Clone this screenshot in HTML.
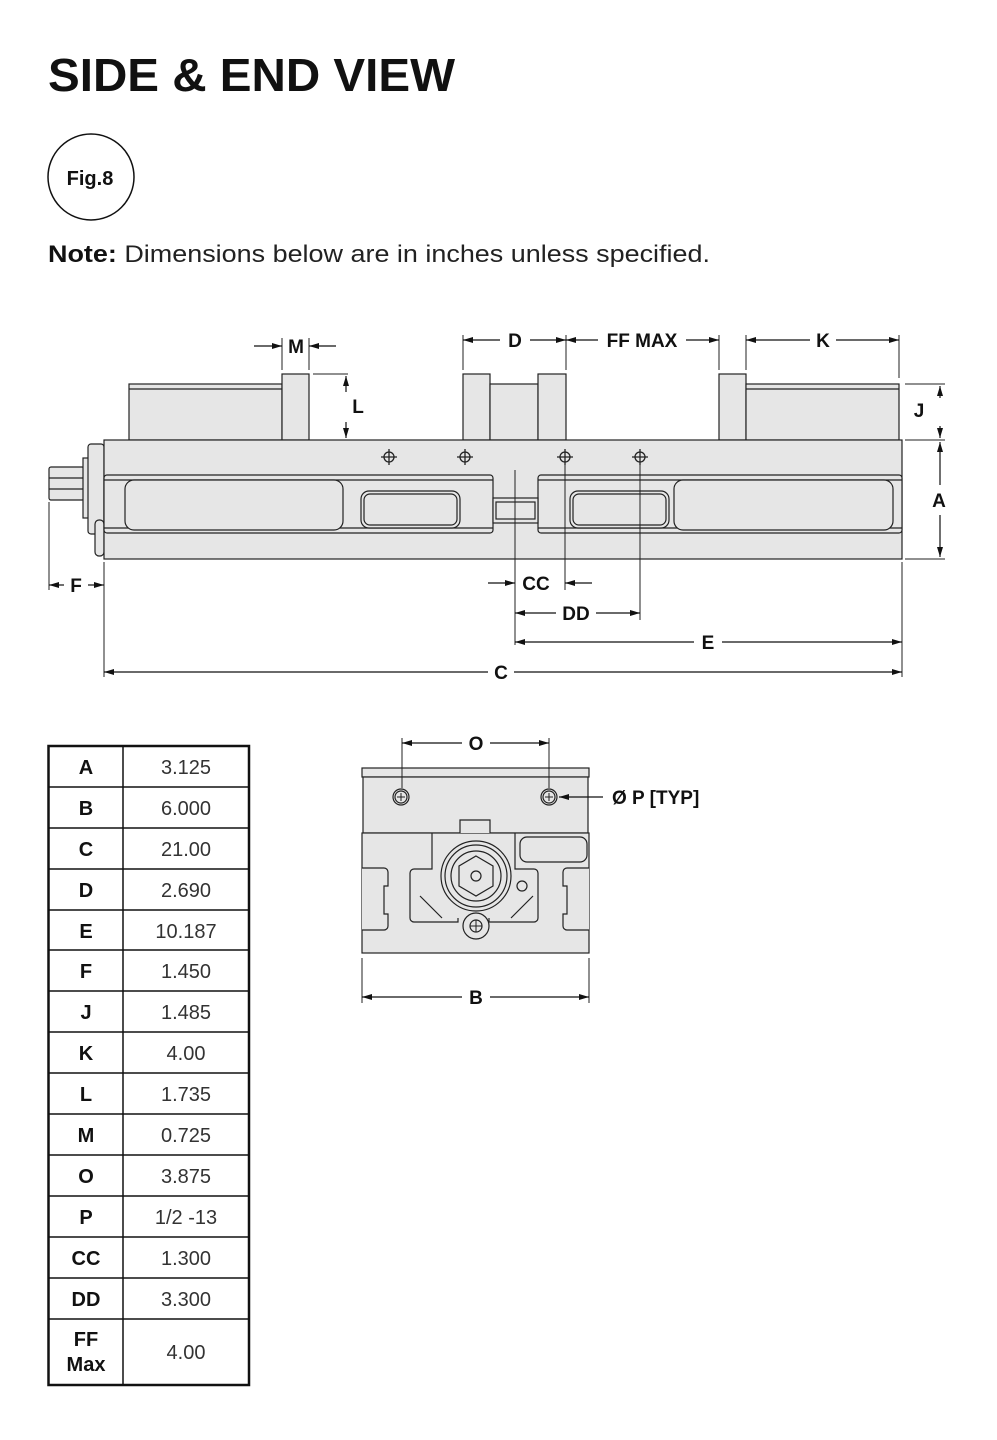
<!DOCTYPE html>
<html><head><meta charset="utf-8"><style>
html,body{margin:0;padding:0;background:#fff;width:997px;height:1440px;overflow:hidden}
svg{display:block}
</style></head><body>
<svg width="997" height="1440" viewBox="0 0 997 1440" xmlns="http://www.w3.org/2000/svg" font-family="Liberation Sans, sans-serif">
<defs>
<marker id="ar" viewBox="0 0 10 6" refX="10" refY="3" markerWidth="10" markerHeight="6" orient="auto-start-reverse" markerUnits="userSpaceOnUse"><path d="M0,0L10,3L0,6z" fill="#111"/></marker>
</defs>
<text x="48" y="91" font-size="46" font-weight="bold" textLength="407" lengthAdjust="spacingAndGlyphs" fill="#111">SIDE &amp; END VIEW</text>
<circle cx="91" cy="177" r="43" fill="none" stroke="#111" stroke-width="1.5"/>
<text x="90" y="185" font-size="20" font-weight="bold" text-anchor="middle" fill="#111">Fig.8</text>
<text x="48" y="262" font-size="24" fill="#222" textLength="662" lengthAdjust="spacingAndGlyphs"><tspan font-weight="bold" fill="#111">Note:</tspan> Dimensions below are in inches unless specified.</text>

<!-- SIDE VIEW -->
<g stroke="#222" stroke-width="1.2" fill="#e6e6e6">
<rect x="129" y="384" width="153" height="56"/>
<line x1="129" y1="389" x2="282" y2="389"/>
<rect x="282" y="374" width="27" height="66"/>
<rect x="463" y="374" width="27" height="66"/>
<rect x="490" y="384" width="48" height="56"/>
<rect x="538" y="374" width="28" height="66"/>
<rect x="719" y="374" width="27" height="66"/>
<rect x="746" y="384" width="153" height="56"/>
<line x1="746" y1="389" x2="899" y2="389"/>
<!-- handle -->
<rect x="49" y="467" width="35" height="33" rx="2"/>
<line x1="49" y1="478" x2="84" y2="478"/><line x1="49" y1="489" x2="84" y2="489"/>
<rect x="83" y="458" width="8" height="60"/>
<rect x="88" y="444" width="16" height="90" rx="3"/>
<rect x="95" y="520" width="9" height="36" rx="4"/>
<!-- body -->
<rect x="104" y="440" width="798" height="119"/>
<rect x="104" y="475" width="389" height="58" rx="3"/>
<line x1="104" y1="480" x2="493" y2="480"/><line x1="104" y1="528" x2="493" y2="528"/>
<rect x="538" y="475" width="364" height="58" rx="3"/>
<line x1="538" y1="480" x2="902" y2="480"/><line x1="538" y1="528" x2="902" y2="528"/>
<rect x="493" y="498" width="45" height="25"/>
<rect x="496" y="502" width="39" height="17"/>
<rect x="125" y="480" width="218" height="50" rx="9"/>
<rect x="361" y="491" width="99" height="37" rx="8"/>
<rect x="364" y="494" width="93" height="31" rx="6"/>
<rect x="570" y="491" width="99" height="37" rx="8"/>
<rect x="573" y="494" width="93" height="31" rx="6"/>
<rect x="674" y="480" width="219" height="50" rx="9"/>
</g>
<g stroke="#222" stroke-width="1.3" fill="none">
<circle cx="389" cy="457" r="5"/><circle cx="465" cy="457" r="5"/><circle cx="565" cy="457" r="5"/><circle cx="640" cy="457" r="5"/>
<path d="M381,457h16M389,449v16M457,457h16M465,449v16M557,457h16M565,449v16M632,457h16M640,449v16"/>
</g>
<!-- extension lines -->
<g stroke="#222" stroke-width="1" fill="none">
<path d="M282,338v32M309,338v32M463,335v35M566,335v35M719,335v35M746,335v35M899,335v43"/>
<path d="M313,374h35M905,384h40M905,440h40M905,559h40"/>
<path d="M49,502v88M104,562v115M515,470v175M565,465v125M640,465v155M902,562v115"/>
</g>
<g stroke="#111" stroke-width="1.2" fill="none">
<line x1="254" y1="346" x2="282" y2="346" marker-end="url(#ar)"/>
<line x1="336" y1="346" x2="309" y2="346" marker-end="url(#ar)"/>
<line x1="346" y1="376" x2="346" y2="392" marker-start="url(#ar)"/><line x1="346" y1="422" x2="346" y2="438" marker-end="url(#ar)"/>
<line x1="463" y1="340" x2="500" y2="340" marker-start="url(#ar)"/><line x1="530" y1="340" x2="566" y2="340" marker-end="url(#ar)"/>
<line x1="566" y1="340" x2="598" y2="340" marker-start="url(#ar)"/><line x1="686" y1="340" x2="719" y2="340" marker-end="url(#ar)"/>
<line x1="746" y1="340" x2="810" y2="340" marker-start="url(#ar)"/><line x1="836" y1="340" x2="899" y2="340" marker-end="url(#ar)"/>
<line x1="940" y1="386" x2="940" y2="398" marker-start="url(#ar)"/><line x1="940" y1="426" x2="940" y2="438" marker-end="url(#ar)"/>
<line x1="940" y1="442" x2="940" y2="485" marker-start="url(#ar)"/><line x1="940" y1="515" x2="940" y2="557" marker-end="url(#ar)"/>
<line x1="49" y1="585" x2="64" y2="585" marker-start="url(#ar)"/><line x1="88" y1="585" x2="104" y2="585" marker-end="url(#ar)"/>
<line x1="488" y1="583" x2="515" y2="583" marker-end="url(#ar)"/><line x1="592" y1="583" x2="565" y2="583" marker-end="url(#ar)"/>
<line x1="515" y1="613" x2="556" y2="613" marker-start="url(#ar)"/><line x1="596" y1="613" x2="640" y2="613" marker-end="url(#ar)"/>
<line x1="515" y1="642" x2="694" y2="642" marker-start="url(#ar)"/><line x1="722" y1="642" x2="902" y2="642" marker-end="url(#ar)"/>
<line x1="104" y1="672" x2="488" y2="672" marker-start="url(#ar)"/><line x1="514" y1="672" x2="902" y2="672" marker-end="url(#ar)"/>
</g>
<g font-size="19" font-weight="bold" fill="#111" text-anchor="middle">
<text x="296" y="353">M</text><text x="358" y="413">L</text>
<text x="515" y="347">D</text><text x="642" y="347">FF MAX</text><text x="823" y="347">K</text>
<text x="919" y="417">J</text><text x="939" y="507">A</text>
<text x="76" y="592">F</text><text x="536" y="590">CC</text><text x="576" y="620">DD</text>
<text x="708" y="649">E</text><text x="501" y="679">C</text>
<text x="476" y="750">O</text><text x="476" y="1004">B</text>
<text x="612" y="804" text-anchor="start">Ø P [TYP]</text>
</g>

<!-- END VIEW -->
<g stroke="#222" stroke-width="1.2" fill="#e6e6e6">
<rect x="362" y="768" width="227" height="9"/>
<rect x="363" y="777" width="225" height="56"/>
<rect x="362" y="833" width="227" height="120"/>
<path d="M362,868h22a4,4 0 0 1 4,4v14h-4v28h4v12a4,4 0 0 1 -4,4h-22" />
<path d="M589,868h-22a4,4 0 0 0 -4,4v14h4v28h-4v12a4,4 0 0 0 4,4h22" />
<path d="M432,833v36h-18a4,4 0 0 0 -4,4v45a4,4 0 0 0 4,4h44v-4M515,833v36h19a4,4 0 0 1 4,4v45a4,4 0 0 1 -4,4h-45v-4"/>
<path d="M460,833v-13h30v13"/>
<path d="M420,896l22,22M533,896l-22,22"/>
<rect x="520" y="837" width="67" height="25" rx="7"/>
<circle cx="476" cy="876" r="35"/>
<circle cx="476" cy="876" r="31" fill="none"/>
<circle cx="476" cy="876" r="25"/>
<path d="M476,856l17,10v20l-17,10l-17,-10v-20z"/>
<circle cx="476" cy="876" r="5"/>
<circle cx="522" cy="886" r="5"/>
<circle cx="476" cy="926" r="13"/>
<circle cx="476" cy="926" r="6"/>
<circle cx="401" cy="797" r="8"/><circle cx="401" cy="797" r="6"/>
<circle cx="549" cy="797" r="8"/><circle cx="549" cy="797" r="6"/>
</g>
<g stroke="#222" stroke-width="1" fill="none">
<path d="M397,797h8M401,793v8M545,797h8M549,793v8M470,926h12M476,920v12"/>
<path d="M402,738v50M549,738v50M362,958v45M589,958v45"/>
</g>
<g stroke="#111" stroke-width="1.2" fill="none">
<line x1="402" y1="743" x2="462" y2="743" marker-start="url(#ar)"/><line x1="490" y1="743" x2="549" y2="743" marker-end="url(#ar)"/>
<line x1="362" y1="997" x2="462" y2="997" marker-start="url(#ar)"/><line x1="490" y1="997" x2="589" y2="997" marker-end="url(#ar)"/>
<line x1="603" y1="797" x2="559" y2="797" marker-end="url(#ar)"/>
</g>

<!-- TABLE -->
<g stroke="#111" fill="none">
<rect x="48.5" y="746" width="200.5" height="639" stroke-width="2.5"/>
<line x1="123" y1="746" x2="123" y2="1385" stroke-width="1.5"/>
<path stroke-width="1.5" d="M48,787h201M48,828h201M48,869h201M48,910h201M48,950h201M48,991h201M48,1032h201M48,1073h201M48,1114h201M48,1155h201M48,1196h201M48,1237h201M48,1278h201M48,1319h201"/>
</g>
<g font-size="20" text-anchor="middle">
<g font-weight="bold" fill="#111">
<text x="86" y="774">A</text><text x="86" y="815">B</text><text x="86" y="856">C</text><text x="86" y="897">D</text>
<text x="86" y="938">E</text><text x="86" y="978">F</text><text x="86" y="1019">J</text><text x="86" y="1060">K</text>
<text x="86" y="1101">L</text><text x="86" y="1142">M</text><text x="86" y="1183">O</text><text x="86" y="1224">P</text>
<text x="86" y="1265">CC</text><text x="86" y="1306">DD</text><text x="86" y="1346">FF</text><text x="86" y="1371">Max</text>
</g>
<g fill="#333">
<text x="186" y="774">3.125</text><text x="186" y="815">6.000</text><text x="186" y="856">21.00</text><text x="186" y="897">2.690</text>
<text x="186" y="938">10.187</text><text x="186" y="978">1.450</text><text x="186" y="1019">1.485</text><text x="186" y="1060">4.00</text>
<text x="186" y="1101">1.735</text><text x="186" y="1142">0.725</text><text x="186" y="1183">3.875</text><text x="186" y="1224">1/2 -13</text>
<text x="186" y="1265">1.300</text><text x="186" y="1306">3.300</text><text x="186" y="1359">4.00</text>
</g>
</g>
</svg>
</body></html>
